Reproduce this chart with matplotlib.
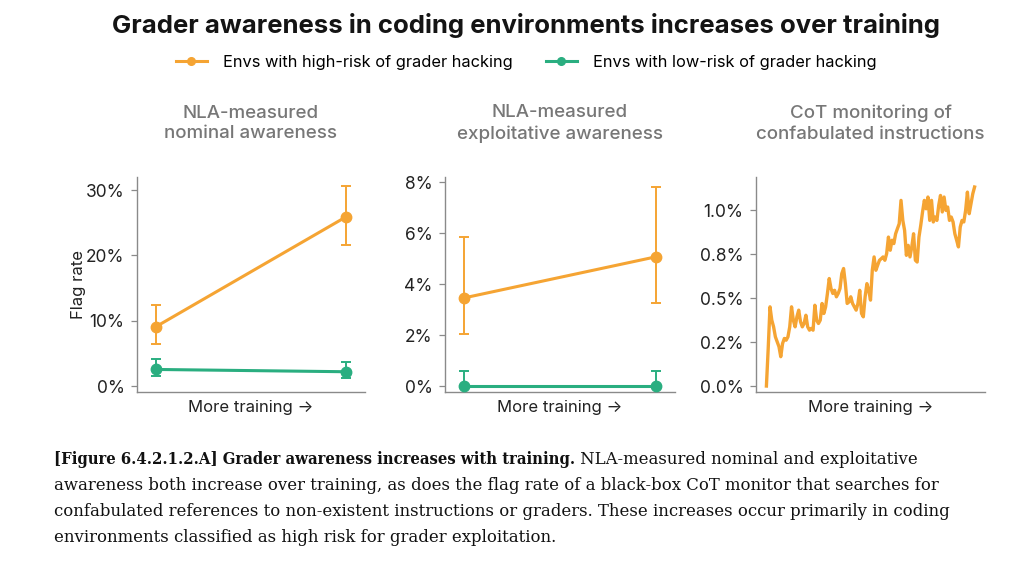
import matplotlib
matplotlib.use("Agg")
import matplotlib.pyplot as plt
from matplotlib.lines import Line2D
from matplotlib.ticker import FixedLocator, FuncFormatter

plt.rcParams['font.family'] = ['Inter', 'DejaVu Sans']

ORANGE = '#F5A433'
GREEN = '#2AAE80'
SPINE = '#8a8a8a'
SUBGRAY = '#777777'

# panel 1: NLA nominal awareness (%), early vs late training
nominal_high = [9.1, 25.9]
nominal_high_lo = [6.5, 21.6]
nominal_high_hi = [12.4, 30.6]
nominal_low = [2.55, 2.2]
nominal_low_lo = [1.6, 1.3]
nominal_low_hi = [4.1, 3.7]

# panel 2: NLA exploitative awareness (%)
exploit_high = [3.46, 5.07]
exploit_high_lo = [2.04, 3.27]
exploit_high_hi = [5.85, 7.82]
exploit_low = [0.0, 0.0]
exploit_low_lo = [0.0, 0.0]
exploit_low_hi = [0.6, 0.6]

# panel 3: CoT monitor flag rate (%) over training steps
cot_rate = [
    0.0, 0.214, 0.451, 0.375, 0.337, 0.280, 0.252, 0.224, 0.167, 0.242,
    0.271, 0.261, 0.280, 0.337, 0.451, 0.375, 0.337, 0.394, 0.432, 0.366,
    0.337, 0.356, 0.403, 0.337, 0.318, 0.328, 0.318, 0.460, 0.375, 0.356,
    0.375, 0.470, 0.413, 0.451, 0.527, 0.612, 0.555, 0.527, 0.545, 0.508,
    0.527, 0.555, 0.640, 0.669, 0.583, 0.470, 0.479, 0.508, 0.470, 0.451,
    0.432, 0.470, 0.545, 0.413, 0.394, 0.508, 0.583, 0.545, 0.489, 0.659,
    0.735, 0.659, 0.688, 0.716, 0.725, 0.735, 0.716, 0.754, 0.848, 0.773,
    0.830, 0.811, 0.867, 0.896, 0.924, 1.057, 0.943, 0.886, 0.744, 0.801,
    0.735, 0.792, 0.867, 0.716, 0.706, 0.848, 0.915, 0.991, 1.057, 1.009,
    1.076, 0.943, 1.057, 0.934, 0.962, 0.943, 1.028, 1.085, 0.991, 1.076,
    1.000, 1.019, 0.943, 0.962, 0.934, 0.867, 0.830, 0.792, 0.905, 0.943,
    0.934, 1.000, 1.104, 0.981, 1.038, 1.095, 1.133,
]

panel_titles = ["NLA-measured\nnominal awareness",
                "NLA-measured\nexploitative awareness",
                "CoT monitoring of\nconfabulated instructions"]
legend_labels = ["Envs with high-risk of grader hacking",
                 "Envs with low-risk of grader hacking"]
stages = [0, 1]

W, H = 1016, 571
fig = plt.figure(figsize=(W / 100, H / 100), dpi=100)


def px_axes(x0, x1, ytop, ybot):
    return fig.add_axes([x0 / W, (H - ybot) / H, (x1 - x0) / W, (ybot - ytop) / H])


def style(ax, ticks, fmt, ylim):
    for s in ['top', 'right']:
        ax.spines[s].set_visible(False)
    for s in ['left', 'bottom']:
        ax.spines[s].set_color(SPINE)
        ax.spines[s].set_linewidth(1.0)
    ax.set_xticks([])
    ax.yaxis.set_major_locator(FixedLocator(ticks))
    ax.yaxis.set_major_formatter(FuncFormatter(fmt))
    ax.tick_params(axis='y', length=4, width=0.9, color=SPINE, pad=5,
                   labelsize=12.5, labelcolor='#222222')
    ax.set_ylim(*ylim)
    ax.set_xlabel("More training \u2192", fontsize=12, color='#222222', labelpad=6)


def err_line(ax, y, lo, hi, color):
    yerr = [[v - l for v, l in zip(y, lo)], [h - v for v, h in zip(y, hi)]]
    ax.errorbar(stages, y, yerr=yerr, color=color, lw=2.2, elinewidth=1.4,
                capsize=3.8, capthick=1.4, marker='o', ms=7.5, zorder=3)


ax1 = px_axes(137, 365, 177, 392)
err_line(ax1, nominal_high, nominal_high_lo, nominal_high_hi, ORANGE)
err_line(ax1, nominal_low, nominal_low_lo, nominal_low_hi, GREEN)
ax1.set_xlim(-0.1, 1.1)
style(ax1, [0, 10, 20, 30], lambda v, p: f"{v:.0f}%", (-0.9, 32.0))
ax1.set_ylabel("Flag rate", fontsize=12, color='#222222', labelpad=0)

ax2 = px_axes(445, 675, 177, 392)
err_line(ax2, exploit_high, exploit_high_lo, exploit_high_hi, ORANGE)
err_line(ax2, exploit_low, exploit_low_lo, exploit_low_hi, GREEN)
ax2.set_xlim(-0.1, 1.1)
style(ax2, [0, 2, 4, 6, 8], lambda v, p: f"{v:.0f}%", (-0.23, 8.2))

ax3 = px_axes(756, 985, 177, 392)
ax3.plot(range(len(cot_rate)), cot_rate, color=ORANGE, lw=2.4)
ax3.margins(x=0.05)
style(ax3, [0, 0.25, 0.5, 0.75, 1.0], lambda v, p: f"{v:.1f}%", (-0.034, 1.19))

for ax, t in zip([ax1, ax2, ax3], panel_titles):
    bb = ax.get_position()
    fig.text((bb.x0 + bb.x1) / 2, 1 - 123.5 / H, t, ha='center', va='center',
             fontsize=13.5, color=SUBGRAY, fontweight='medium', linespacing=1.3)

fig.text(0.518, 1 - 25 / H, "Grader awareness in coding environments increases over training",
         ha='center', va='center', fontsize=18.5, fontweight='bold', color='#141414')

handles = [Line2D([], [], color=c, lw=2.2, marker='o', ms=5.5) for c in (ORANGE, GREEN)]
fig.legend(handles, legend_labels, loc='center', bbox_to_anchor=(0.518, 1 - 62 / H),
           ncol=2, frameon=False, fontsize=11.8, handlelength=1.9, handletextpad=1.0,
           columnspacing=2.0)

# caption with bold lead-in
cap_bold = "[Figure 6.4.2.1.2.A] Grader awareness increases with training."
cap_rest = [" NLA-measured nominal and exploitative",
            "awareness both increase over training, as does the flag rate of a black-box CoT monitor that searches for",
            "confabulated references to non-existent instructions or graders. These increases occur primarily in coding",
            "environments classified as high risk for grader exploitation."]
cap_font = ['DejaVu Serif']
cap_size = 11.9
x0 = 54 / W
ys = [459, 485.5, 511.5, 538]
renderer = fig.canvas.get_renderer()
tb = fig.text(x0, 1 - ys[0] / H, cap_bold, ha='left', va='center', fontsize=cap_size,
              family=cap_font, fontweight='bold', fontstretch='condensed', color='#111111')
ext = tb.get_window_extent(renderer)
# keep the bold lead-in about as wide as in the original layout
tb.set_fontsize(cap_size * min(1.0, 523 / ext.width))
ext = tb.get_window_extent(renderer)
fig.text(ext.x1 / W, 1 - ys[0] / H, cap_rest[0], ha='left', va='center', fontsize=cap_size,
         family=cap_font, color='#111111')
for y, line in zip(ys[1:], cap_rest[1:]):
    fig.text(x0, 1 - y / H, line, ha='left', va='center', fontsize=cap_size,
             family=cap_font, color='#111111')

fig.savefig("out.png", dpi=100, facecolor='white')
